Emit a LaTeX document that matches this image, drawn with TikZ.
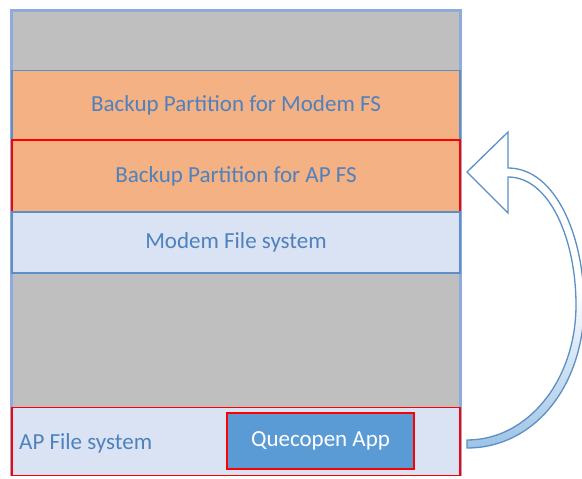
\documentclass[tikz,border=0pt]{standalone}
\usepackage{fontspec}
\setmainfont{Carlito}
\definecolor{framecol}{HTML}{8FAADC}
\definecolor{graycol}{HTML}{BFBFBF}
\definecolor{orangecol}{HTML}{F4B183}
\definecolor{lightcol}{HTML}{DAE3F3}
\definecolor{bluecol}{HTML}{5B8FC6}
\definecolor{appcol}{HTML}{5B9BD5}
\definecolor{txtcol}{HTML}{4F81BD}
\definecolor{arrowfill}{HTML}{9DC3E6}
\begin{document}
\begin{tikzpicture}[x=1pt,y=-1pt,
  txt/.style={font=\fontsize{23}{27}\selectfont},
  layer/.style={txt,draw=bluecol,line width=1.5pt,minimum width=448pt,inner sep=0pt,text=txtcol},
  redlayer/.style={layer,draw=red},
]
\useasboundingbox (0,0) rectangle (582,479);
% outer frame
\node[draw=framecol,line width=3pt,fill=graycol,minimum width=449pt,minimum height=464pt,inner sep=0pt] (frame) at (236,242) {};
\node[layer,fill=orangecol,minimum height=69pt] (bmodem) at (236,105) {Backup Partition for Modem FS};
\node[redlayer,fill=orangecol,minimum height=72pt] (bap) at (236,176) {Backup Partition for AP FS};
\node[layer,fill=lightcol,minimum height=61pt] (modem) at (236,242.5) {Modem File system};
\node[redlayer,fill=lightcol,minimum height=68pt] (apfs) at (236,441.5) {};
\node[txt,text=txtcol,anchor=west,inner sep=0pt] (aplabel) at (19,443) {AP File system};
\node[txt,draw=red,line width=1.5pt,fill=appcol,minimum width=187pt,minimum height=56pt,inner sep=0pt,
  text=white] (app) at (320.5,441) {Quecopen App};
% curved block arrow
\coordinate (tip) at (467,172);
\coordinate (tail) at (467,444);
\draw[bluecol,line width=1.3pt,top color=white,bottom color=arrowfill,middle color=white,shading angle=0]
  (tip) -- (508,132) -- (508,168)
  .. controls (555,168) and (584,235) .. (584,305)
  .. controls (584,385) and (535,448) .. (467,448)
  -- (467,440)
  .. controls (528,440) and (576,380) .. (576,305)
  .. controls (576,240) and (550,177) .. (508,177)
  -- (508,213) -- cycle;
\end{tikzpicture}
\end{document}
